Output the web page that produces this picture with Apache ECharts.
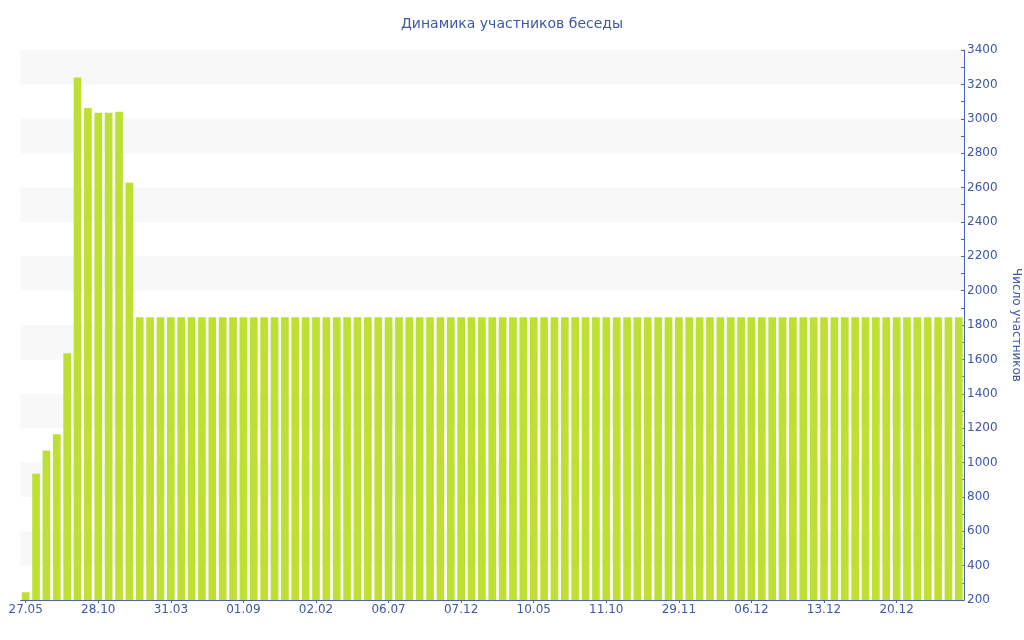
<!DOCTYPE html>
<html>
<head>
<meta charset="utf-8">
<script src="https://cdn.jsdelivr.net/npm/echarts@6/dist/echarts.min.js"></script>
<style>html,body{margin:0;padding:0;background:#fff}#c{width:1024px;height:640px}</style>
</head>
<body>
<div id="c"></div>
<script>
var titleText = 'Динамика участников беседы';
var yAxisName = 'Число участников';
var categories = [
 '27.05','17.06','08.07','29.07','19.08','09.09','30.09',
 '28.10','19.11','10.12','31.12','21.01','11.02','04.03',
 '31.03','21.04','12.05','02.06','23.06','14.07','04.08',
 '01.09','22.09','13.10','03.11','24.11','15.12','05.01',
 '02.02','23.02','16.03','06.04','27.04','18.05','08.06',
 '06.07','27.07','17.08','07.09','28.09','19.10','09.11',
 '07.12','28.12','18.01','08.02','01.03','22.03','12.04',
 '10.05','31.05','21.06','12.07','02.08','23.08','13.09',
 '11.10','18.10','25.10','01.11','08.11','15.11','22.11',
 '29.11','30.11','01.12','02.12','03.12','04.12','05.12',
 '06.12','07.12','08.12','09.12','10.12','11.12','12.12',
 '13.12','14.12','15.12','16.12','17.12','18.12','19.12',
 '20.12','21.12','22.12','23.12','24.12','25.12','26.12'
];
var members = [
 245, 935, 1070, 1165, 1635, 3240, 3062,
 3035, 3035, 3041, 2628, 1845, 1845, 1845,
 1845, 1845, 1845, 1845, 1845, 1845, 1845,
 1845, 1845, 1845, 1845, 1845, 1845, 1845,
 1845, 1845, 1845, 1845, 1845, 1845, 1845,
 1845, 1845, 1845, 1845, 1845, 1845, 1845,
 1845, 1845, 1845, 1845, 1845, 1845, 1845,
 1845, 1845, 1845, 1845, 1845, 1845, 1845,
 1845, 1845, 1845, 1845, 1845, 1845, 1845,
 1845, 1845, 1845, 1845, 1845, 1845, 1845,
 1845, 1845, 1845, 1845, 1845, 1845, 1845,
 1845, 1845, 1845, 1845, 1845, 1845, 1845,
 1845, 1845, 1845, 1845, 1845, 1845, 1845
];
var txt = '#3e57a6';
var axisCol = '#4a64a8';
var chart = echarts.init(document.getElementById('c'), null, {renderer: 'canvas'});
chart.setOption({
  animation: false,
  backgroundColor: '#ffffff',
  title: {
    text: titleText, left: 'center', top: 12,
    textStyle: {color: txt, fontSize: 14, fontWeight: 'normal', fontFamily: 'DejaVu Sans'}
  },
  grid: {left: 20.5, right: 60, top: 50, bottom: 40, containLabel: false, outerBoundsMode: 'none'},
  xAxis: {
    type: 'category', data: categories,
    axisLine: {show: true, lineStyle: {color: axisCol, width: 1}},
    axisTick: {show: true, alignWithLabel: true, interval: 6, length: 3, lineStyle: {color: axisCol}},
    axisLabel: {interval: 6, color: txt, fontSize: 12, fontFamily: 'DejaVu Sans', margin: 4},
    splitLine: {show: false}
  },
  yAxis: {
    type: 'value', position: 'right', min: 200, max: 3400, interval: 200,
    name: yAxisName, nameLocation: 'middle', nameRotate: -90, nameGap: 46,
    nameTextStyle: {color: txt, fontSize: 12, fontFamily: 'DejaVu Sans'},
    axisLine: {show: true, lineStyle: {color: axisCol, width: 1}},
    axisTick: {show: true, inside: true, length: 3, lineStyle: {color: axisCol}},
    minorTick: {show: true, splitNumber: 2, length: 3, lineStyle: {color: axisCol}},
    axisLabel: {color: txt, fontSize: 12, fontFamily: 'DejaVu Sans', margin: 3,
      formatter: function (v) { return String(v); }},
    splitLine: {show: false},
    splitArea: {show: true, areaStyle: {color: ['rgba(255,255,255,0)', '#f8f8f8']}}
  },
  series: [{
    type: 'bar', data: members, barCategoryGap: '26%',
    itemStyle: {color: '#bde032'}
  }]
});
</script>
</body>
</html>
